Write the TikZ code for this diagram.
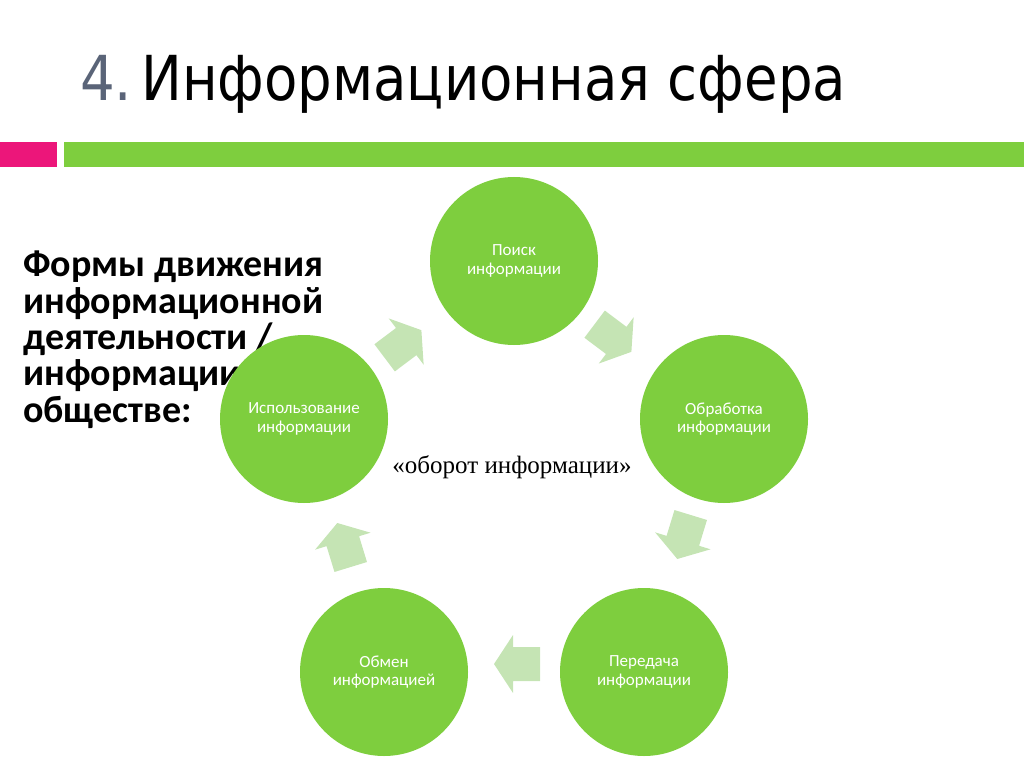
\documentclass[tikz,border=0pt]{standalone}
\usepackage{fontspec}
\setmainfont{Carlito}
\newfontfamily\titlefont[FakeStretch=0.88]{DejaVu Sans}
\newfontfamily\timesfont{Liberation Serif}
\definecolor{krug}{RGB}{126,206,62}
\definecolor{strelka}{RGB}{197,228,180}
\definecolor{rozovy}{RGB}{236,22,122}
\definecolor{seryj}{RGB}{90,100,120}
\tikzset{
  krugnode/.style={circle,fill=krug,minimum size=168pt,inner sep=0pt,
    text=white,align=center,font=\fontsize{17}{18.5}\selectfont},
  tieudestyle/.style={anchor=base west,inner sep=0pt,font=\titlefont\fontsize{62}{62}\selectfont},
}
\begin{document}
\begin{tikzpicture}[x=1pt,y=-1pt]
\useasboundingbox (0,0) rectangle (1024,767);
% Tiêu đề và hai thanh màu
\node[tieudestyle,text=seryj] (tieudeso) at (80,101) {4.};
\node[tieudestyle] (tieude) at (141,101) {Информационная сфера};
\fill[rozovy] (0,142) rectangle (57,167);
\fill[krug] (64,142) rectangle (1024,167);
% Chữ bên trái (bị hình tròn che một phần)
\node[anchor=north west,inner sep=0pt,align=left,font=\bfseries\fontsize{38}{36.3}\selectfont] (formy) at (23,251)
  {Формы движения\\информационной\\деятельности /\\информации в\\обществе:};
% Các mũi tên
\foreach \a/\px/\py in {37/403/344,-37/613/338,-107/684/537,180/517/664,107/344/545}
\fill[strelka,shift={(\px,\py)},rotate=\a] (-23,-17)--(4,-17)--(4,-29)--(23,0)--(4,29)--(4,17)--(-23,17)--cycle;
% Năm hình tròn
\node[krugnode] (poisk) at (514,261) {Поиск\\информации};
\node[krugnode] (obrabotka) at (724,419) {Обработка\\информации};
\node[krugnode] (peredacha) at (644,672) {Передача\\информации};
\node[krugnode] (obmen) at (384,672) {Обмен\\информацией};
\node[krugnode] (ispolz) at (304,419) {Использование\\информации};
% Chữ ở giữa
\node[font=\timesfont\fontsize{25}{25}\selectfont] (oborot) at (512,467) {«оборот информации»};
\end{tikzpicture}
\end{document}
